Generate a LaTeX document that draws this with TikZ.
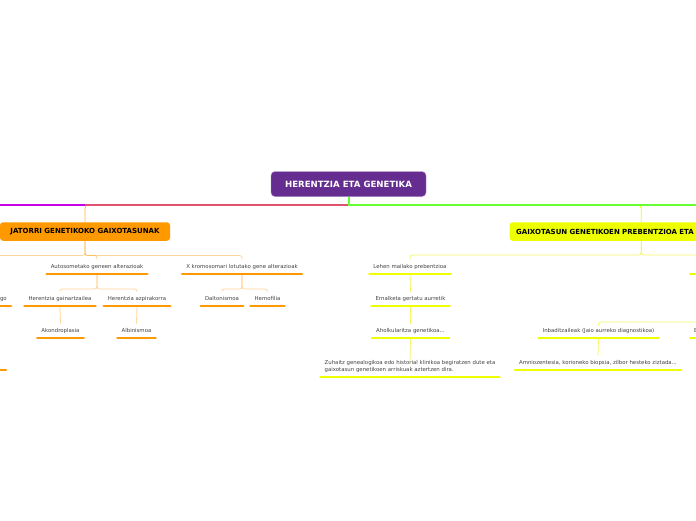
\documentclass[tikz,border=0pt]{standalone}
\usepackage{fontspec}
\setmainfont{DejaVu Sans}
\definecolor{rootpurple}{HTML}{662D91}
\definecolor{jorange}{HTML}{FF9900}
\definecolor{gyellow}{HTML}{EEFF00}
\definecolor{pinkline}{HTML}{E05270}
\definecolor{magline}{HTML}{C800E6}
\definecolor{greenline}{HTML}{66FF33}
\definecolor{txtgray}{HTML}{444444}
\newcommand\leaffont{\fontsize{5.4}{7}\selectfont}
\begin{document}
\begin{tikzpicture}[x=1pt,y=-1pt,
  rootbox/.style={fill=rootpurple, draw=rootpurple!55!white, line width=0.4pt, rounded corners=4pt,
    minimum width=155pt, minimum height=25pt, inner sep=0pt, text=white,
    font=\fontsize{8.6}{10}\selectfont\bfseries},
  jatbox/.style={fill=jorange, rounded corners=3pt, minimum width=170pt, minimum height=18.5pt,
    inner sep=0pt, text=black, font=\fontsize{7}{8}\selectfont\bfseries},
  gaixbox/.style={fill=gyellow, rounded corners=3pt, minimum height=18.5pt, inner ysep=0pt,
    inner xsep=6.5pt, text width=250pt, align=left, text=black,
    font=\fontsize{7}{8}\selectfont\bfseries},
  leaf/.style={anchor=south, font=\leaffont, text=txtgray, inner xsep=4pt, inner ysep=4.5pt,
    text height=4pt, text depth=1pt},
  mainline/.style={line width=2pt},
  oconn/.style={draw=jorange, draw opacity=0.4, line width=0.8pt, rounded corners=2.5pt},
  yconn/.style={draw=gyellow!90!orange, draw opacity=0.6, line width=0.8pt, rounded corners=2.5pt},
  obar/.style={draw=jorange, line width=2.6pt, line cap=round},
  ybar/.style={draw=gyellow, line width=2.6pt, line cap=round}]
\useasboundingbox (0,0) rectangle (696,520);
\clip (0,0) rectangle (696,520);
\fill[white] (0,0) rectangle (696,520);

% main nodes
\node[rootbox] (root) at (348.5,184) {HERENTZIA ETA GENETIKA};
\node[jatbox] (jat) at (85,231.5) {JATORRI GENETIKOKO GAIXOTASUNAK};
\node[gaixbox, anchor=west] (gaix) at (509.5,231.5) {GAIXOTASUN GENETIKOEN PREBENTZIOA ETA};

\coordinate (hub) at (348.5,204.5);
\coordinate (redge) at (700,204.5);
\coordinate (ledge) at (-5,204.5);
\coordinate (offL) at (-40,262);

% orange leaves
\node[leaf] (auto) at (97,274) {Autosometako geneen alterazioak};
\node[leaf] (xkrom) at (242,274) {X kromosomari lotutako gene alterazioak};
\node[leaf] (gain) at (60,306) {Herentzia gainartzailea};
\node[leaf] (azpi) at (137,306) {Herentzia azpirakorra};
\node[leaf] (akon) at (60.5,338) {Akondroplasia};
\node[leaf] (albi) at (136.5,338) {Albinismoa};
\node[leaf] (dalt) at (222,306) {Daltonismoa};
\node[leaf] (hemo) at (267.5,306) {Hemofilia};
\node[leaf, anchor=south east, text width=40pt, align=right] (lgo) at (11,306) {go};
\node[leaf, anchor=south east, text width=40pt, align=right] (lbot) at (6,370) {};

% yellow leaves
\node[leaf] (lehen) at (410,274) {Lehen mailako prebentzioa};
\node[leaf, anchor=south west, minimum width=100pt] (bigar) at (690,274) {};
\node[leaf] (ernal) at (410.5,306) {Ernalketa gertatu aurretik};
\node[leaf] (ahol) at (410.5,338) {Aholkularitza genetikoa...};
\node[leaf, align=left] (zuhai) at (410,377) {Zuhaitz genealogikoa edo historial klinikoa begiratzen dute eta\\gaixotasun genetikoen arriskuak aztertzen dira.};
\node[leaf] (inbad) at (598.5,338) {Inbaditzaileak (Jaio aurreko diagnostikoa)};
\node[leaf, anchor=south west] (ezinb) at (690,338) {Ez inbaditzaileak};
\node[leaf] (amnio) at (598,370) {Amniozentesia, korioneko biopsia, zilbor hesteko ziztada...};

% thin connectors from the root to the two branches
\draw[draw=jorange, draw opacity=0.75, line width=0.8pt, rounded corners=4pt] (hub) -| (jat.north);
\draw[draw=gyellow, line width=0.8pt, rounded corners=4pt] (hub) -| (gaix.north);

% thick main lines
\draw[mainline, magline] (jat.north |- hub) -- (ledge);
\draw[mainline, pinkline] (hub) -- (jat.north |- hub);
\draw[mainline, greenline] (root.south) -- (hub) -- (redge);

% orange connectors
\draw[oconn] (jat.south) -- ++(0,14.5) -| (offL);
\draw[oconn] (jat.south) -- ++(0,14.5) -| (auto.north);
\draw[oconn] (jat.south) -- ++(0,14.5) -| (xkrom.north);
\draw[oconn] (auto.south) -- ++(0,15) -| (gain.north);
\draw[oconn] (auto.south) -- ++(0,15) -| (azpi.north);
\draw[oconn] (xkrom.south) -- ++(0,15) -| (dalt.north);
\draw[oconn] (xkrom.south) -- ++(0,15) -| (hemo.north);
\draw[oconn] (gain.south) -- (akon.north);
\draw[oconn] (azpi.south) -- (albi.north);

% yellow connectors
\draw[yconn] (gaix.south) -- ++(0,14) -| (lehen.north);
\draw[yconn] (gaix.south) -- ++(0,14) -| (bigar.north);
\draw[yconn] (lehen.south) -- (ernal.north);
\draw[yconn] (ernal.south) -- (ahol.north);
\draw[yconn] (ahol.south) -- (zuhai.north);
\draw[yconn] (bigar.south) -- ++(0,48) -| (inbad.north);
\draw[yconn] (bigar.south) -- ++(0,48) -| (ezinb.north);
\draw[yconn] (inbad.south) -- (amnio.north);

% underline bars
\foreach \n in {auto,xkrom,gain,azpi,akon,albi,dalt,hemo,lgo,lbot}
  \draw[obar] (\n.south west) -- (\n.south east);
\foreach \n in {lehen,bigar,ernal,ahol,zuhai,inbad,ezinb,amnio}
  \draw[ybar] (\n.south west) -- (\n.south east);
\end{tikzpicture}
\end{document}
